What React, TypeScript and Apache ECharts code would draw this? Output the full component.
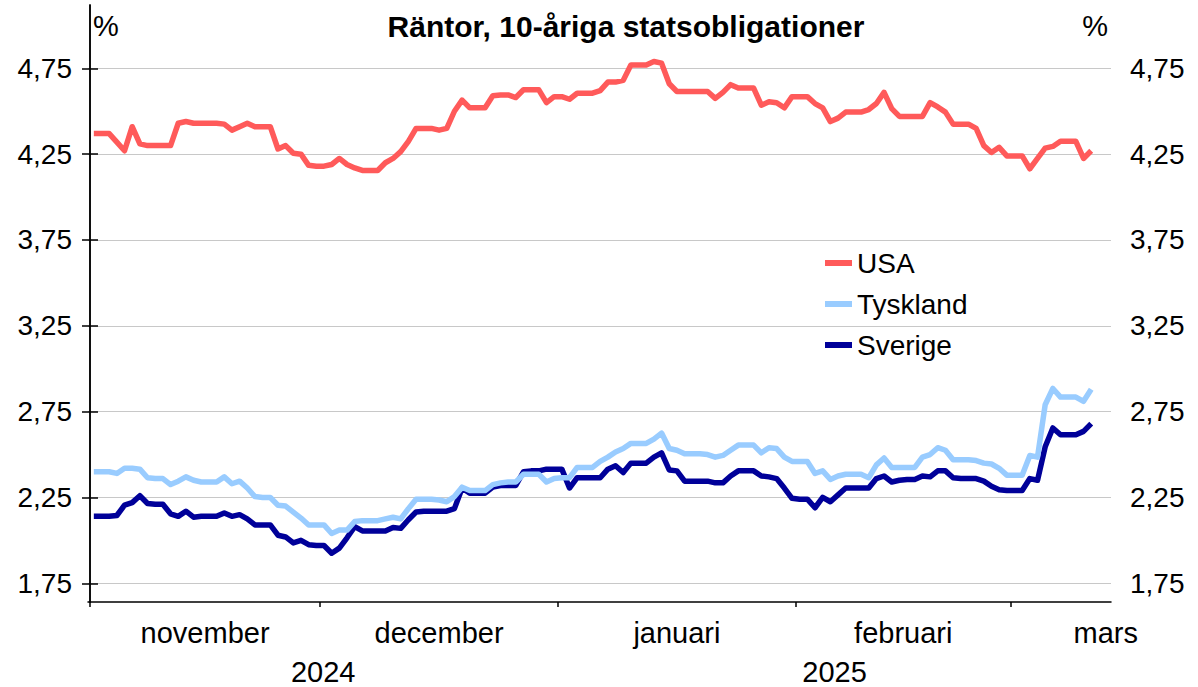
import React, { useEffect, useRef } from "react";
import * as echarts from "echarts";

// Day index 0 = 1 Nov 2024 (daily, weekends carry the Friday value); last = 11 Mar 2025
const usa = [
  4.37, 4.37, 4.37, 4.32, 4.27, 4.41, 4.31, 4.30, 4.30, 4.30,
  4.30, 4.43, 4.44, 4.43, 4.43, 4.43, 4.43, 4.425, 4.39, 4.41,
  4.43, 4.41, 4.41, 4.41, 4.28, 4.30, 4.255, 4.25, 4.185, 4.18,
  4.18, 4.19, 4.225, 4.19, 4.17, 4.155, 4.155, 4.155, 4.20, 4.225,
  4.265, 4.325, 4.40, 4.40, 4.40, 4.39, 4.40, 4.50, 4.565, 4.52,
  4.52, 4.52, 4.59, 4.595, 4.595, 4.58, 4.625, 4.625, 4.625, 4.55,
  4.585, 4.585, 4.57, 4.605, 4.605, 4.605, 4.62, 4.67, 4.67, 4.68,
  4.77, 4.77, 4.77, 4.79, 4.78, 4.66, 4.615, 4.615, 4.615, 4.615,
  4.615, 4.575, 4.61, 4.655, 4.635, 4.635, 4.635, 4.535, 4.555, 4.55,
  4.52, 4.585, 4.585, 4.585, 4.545, 4.52, 4.44, 4.46, 4.495, 4.495,
  4.495, 4.51, 4.545, 4.61, 4.515, 4.47, 4.47, 4.47, 4.47, 4.55,
  4.525, 4.495, 4.425, 4.425, 4.425, 4.40, 4.30, 4.26, 4.29, 4.24,
  4.24, 4.24, 4.165, 4.225, 4.285, 4.295, 4.325, 4.325, 4.325, 4.225,
  4.27,
];

const tyskland = [
  2.40, 2.40, 2.40, 2.39, 2.42, 2.42, 2.415, 2.365, 2.36, 2.36,
  2.325, 2.345, 2.37, 2.35, 2.34, 2.34, 2.34, 2.37, 2.33, 2.345,
  2.305, 2.255, 2.25, 2.25, 2.205, 2.20, 2.165, 2.13, 2.09, 2.09,
  2.09, 2.04, 2.06, 2.06, 2.11, 2.115, 2.115, 2.115, 2.125, 2.135,
  2.125, 2.185, 2.24, 2.24, 2.24, 2.235, 2.225, 2.255, 2.31, 2.29,
  2.29, 2.29, 2.325, 2.335, 2.34, 2.34, 2.385, 2.385, 2.385, 2.34,
  2.36, 2.365, 2.365, 2.425, 2.425, 2.425, 2.46, 2.485, 2.515, 2.535,
  2.565, 2.565, 2.565, 2.59, 2.625, 2.535, 2.525, 2.505, 2.505, 2.505,
  2.50, 2.485, 2.495, 2.525, 2.555, 2.555, 2.555, 2.51, 2.54, 2.535,
  2.485, 2.46, 2.46, 2.46, 2.39, 2.405, 2.355, 2.375, 2.385, 2.385,
  2.385, 2.365, 2.44, 2.48, 2.425, 2.425, 2.425, 2.425, 2.485, 2.50,
  2.54, 2.525, 2.47, 2.47, 2.47, 2.465, 2.45, 2.445, 2.42, 2.38,
  2.38, 2.38, 2.495, 2.485, 2.79, 2.885, 2.835, 2.835, 2.835, 2.81,
  2.88,
];

const sverige = [
  2.14, 2.14, 2.14, 2.145, 2.205, 2.22, 2.26, 2.215, 2.21, 2.21,
  2.155, 2.14, 2.17, 2.135, 2.14, 2.14, 2.14, 2.16, 2.14, 2.15,
  2.125, 2.09, 2.09, 2.09, 2.03, 2.02, 1.985, 2.00, 1.975, 1.97,
  1.97, 1.925, 1.955, 2.015, 2.08, 2.055, 2.055, 2.055, 2.055, 2.075,
  2.07, 2.12, 2.165, 2.17, 2.17, 2.17, 2.17, 2.185, 2.305, 2.275,
  2.275, 2.275, 2.31, 2.32, 2.32, 2.32, 2.40, 2.405, 2.405, 2.415,
  2.415, 2.415, 2.305, 2.365, 2.365, 2.365, 2.365, 2.415, 2.435, 2.395,
  2.45, 2.45, 2.45, 2.485, 2.51, 2.41, 2.405, 2.345, 2.345, 2.345,
  2.345, 2.335, 2.335, 2.375, 2.405, 2.405, 2.405, 2.375, 2.37, 2.36,
  2.305, 2.245, 2.24, 2.24, 2.19, 2.25, 2.225, 2.265, 2.305, 2.305,
  2.305, 2.305, 2.36, 2.375, 2.34, 2.35, 2.355, 2.355, 2.375, 2.37,
  2.405, 2.405, 2.365, 2.36, 2.36, 2.36, 2.345, 2.315, 2.295, 2.29,
  2.29, 2.29, 2.36, 2.35, 2.545, 2.655, 2.615, 2.615, 2.615, 2.635,
  2.68,
];

const seriesNames = ["USA", "Tyskland", "Sverige"];
const yTicks = [1.75, 2.25, 2.75, 3.25, 3.75, 4.25, 4.75];
// month boundaries as day indices (1 Nov, 1 Dec, 1 Jan, 1 Feb, 1 Mar)
const monthStarts = [0, 30, 61, 92, 120];
const monthNames = ["november", "december", "januari", "februari", "mars"];
const yearNames = ["2024", "2025"];

// layout
const X_MIN = -0.26;
const X_MAX = 133.08;
const Y_MIN = 1.641;
const Y_MAX = 5.119;
const monthLabelPos = [15, 45.5, 76.5, 106, 132.4];
const yearLabelPos = [30.4, 97.05];

const FONT = "'Liberation Sans', Arial, sans-serif";
const colors = ["#FF5A5A", "#99CCFF", "#000099"];

export default function App() {
  const ref = useRef<HTMLDivElement>(null);

  useEffect(() => {
    if (!ref.current) return;
    const chart = echarts.init(ref.current, undefined, { renderer: "svg" });
    const toPts = (arr: number[]) => arr.map((v, i) => [i + 0.5, v]);
    const fmtY = (v: number) => v.toFixed(2).replace(".", ",");
    const findLabel = (v: number, pos: number[], names: string[]) => {
      let best = 0;
      for (let i = 0; i < pos.length; i++) {
        if (Math.abs(pos[i] - v) < Math.abs(pos[best] - v)) best = i;
      }
      return names[best];
    };
    const allData = [usa, tyskland, sverige];

    const yAxisBase = (position: "left" | "right", margin: number) => ({
      type: "value",
      position,
      min: Y_MIN,
      max: Y_MAX,
      axisLine: { show: true, lineStyle: { color: "#000", width: 1.5 } },
      axisTick: {
        show: true,
        customValues: yTicks,
        length: 8,
        lineStyle: { color: "#000", width: 1.5 },
      },
      axisLabel: {
        customValues: yTicks,
        formatter: (v: number) => fmtY(v),
        margin,
        fontSize: 28,
        color: "#000",
        fontFamily: FONT,
      },
      splitLine: {
        show: position === "left",
        lineStyle: { color: "#c8c8c8", width: 1 },
      },
    });

    chart.setOption({
      animation: false,
      backgroundColor: "#fff",
      grid: { left: 88, right: 87, top: 5, bottom: 85, containLabel: false },
      legend: {
        orient: "vertical",
        left: 825,
        top: 249,
        padding: 0,
        itemGap: 13,
        itemWidth: 27,
        itemHeight: 6,
        icon: "rect",
        data: seriesNames,
        textStyle: { fontSize: 28, color: "#000", fontFamily: FONT },
      },
      xAxis: [
        {
          type: "value",
          position: "bottom",
          min: X_MIN,
          max: X_MAX,
          axisLine: { show: true, onZero: false, lineStyle: { color: "#000", width: 1.5 } },
          axisTick: {
            show: true,
            customValues: monthStarts,
            length: 5,
            lineStyle: { color: "#000", width: 1.5 },
          },
          axisLabel: {
            customValues: monthLabelPos,
            formatter: (v: number) => findLabel(v, monthLabelPos, monthNames),
            margin: 16,
            fontSize: 29,
            color: "#000",
            fontFamily: FONT,
          },
          splitLine: { show: false },
        },
        {
          type: "value",
          position: "bottom",
          min: X_MIN,
          max: X_MAX,
          axisLine: { show: false },
          axisTick: { show: false },
          axisLabel: {
            customValues: yearLabelPos,
            formatter: (v: number) => findLabel(v, yearLabelPos, yearNames),
            margin: 55,
            fontSize: 29,
            color: "#000",
            fontFamily: FONT,
          },
          splitLine: { show: false },
        },
      ],
      yAxis: [yAxisBase("left", 16), yAxisBase("right", 19)],
      graphic: [
        {
          type: "text",
          style: {
            text: "Räntor, 10-åriga statsobligationer",
            x: 626,
            y: 26,
            textAlign: "center",
            textVerticalAlign: "middle",
            font: `bold 30px ${FONT}`,
            fill: "#000",
          },
        },
        {
          type: "text",
          style: {
            text: "%",
            x: 93,
            y: 26,
            textAlign: "left",
            textVerticalAlign: "middle",
            font: `29px ${FONT}`,
            fill: "#000",
          },
        },
        {
          type: "text",
          style: {
            text: "%",
            x: 1108,
            y: 26,
            textAlign: "right",
            textVerticalAlign: "middle",
            font: `29px ${FONT}`,
            fill: "#000",
          },
        },
      ],
      series: seriesNames.map((name, k) => ({
        name,
        type: "line",
        xAxisIndex: 0,
        yAxisIndex: 0,
        data: toPts(allData[k]),
        showSymbol: false,
        symbol: "none",
        color: colors[k],
        lineStyle: { color: colors[k], width: 5.5, join: "round" },
        z: 3 - k + 2,
      })),
    });

    return () => chart.dispose();
  }, []);

  return (
    <div
      ref={ref}
      style={{ position: "fixed", left: 0, top: 0, width: 1198, height: 687 }}
    />
  );
}
